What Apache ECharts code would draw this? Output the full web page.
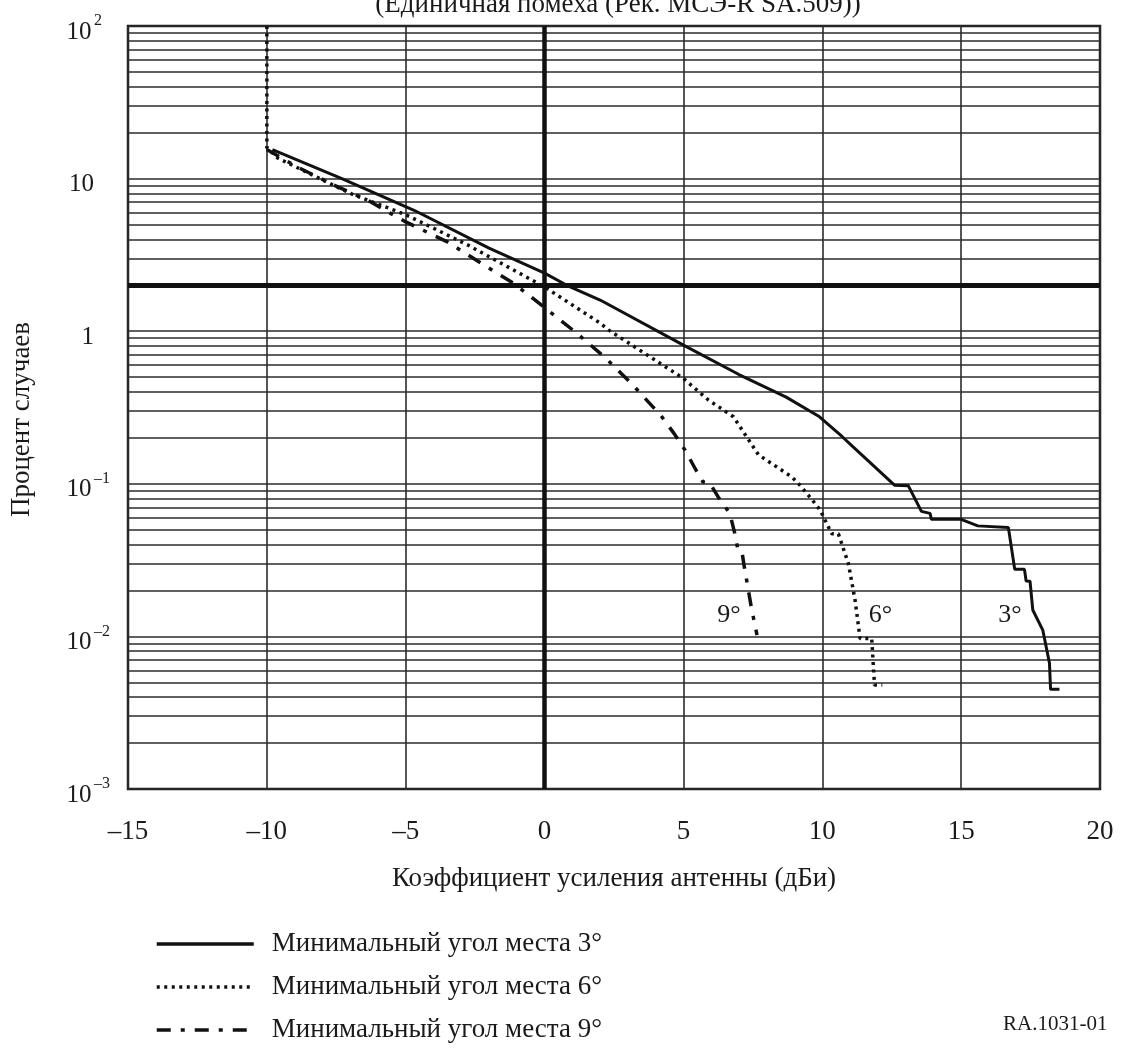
<!DOCTYPE html>
<html><head><meta charset="utf-8">
<script src="https://cdn.jsdelivr.net/npm/echarts@6/dist/echarts.min.js"></script>
<style>html,body{margin:0;padding:0;background:#fff}#c{width:1121px;height:1055px}</style>
</head><body><div id="c"></div>
<script>
const chartTitle = '(Единичная помеха (Рек. МСЭ-R SA.509))';
const xAxisName = 'Коэффициент усиления антенны (дБи)';
const yAxisName = 'Процент случаев';
const figureId = 'RA.1031-01';
const seriesNames = ['Минимальный угол места 3°', 'Минимальный угол места 6°', 'Минимальный угол места 9°'];

// x: antenna gain (dBi), y: percentage of time (%)
const curve3 = [[-9.8,15.5],[-7.3,10],[-4.7,6.2],[-2,3.5],[0,2.4],[0.8,2.0],[2,1.6],[5,0.81],[7,0.52],[8.7,0.37],[9.9,0.275],[10.7,0.205],[11.1,0.175],[12.6,0.098],[13.1,0.097],[13.57,0.066],[13.88,0.064],[13.93,0.0585],[15.0,0.0585],[15.6,0.053],[16.7,0.0518],[16.93,0.0275],[17.28,0.0275],[17.34,0.0231],[17.48,0.023],[17.58,0.0149],[17.94,0.011],[18.18,0.0067],[18.22,0.0045],[18.54,0.0045]];
const curve6 = [[-10,100],[-10,16],[-9.6,13.6],[-7,8.0],[-5,5.8],[-2.8,3.7],[0,1.95],[2,1.13],[2.3,1.02],[5,0.49],[5.9,0.354],[6.8,0.275],[7.3,0.2],[7.7,0.155],[8.9,0.111],[9.15,0.1],[9.6,0.08],[9.93,0.067],[10.34,0.047],[10.58,0.047],[10.94,0.030],[11.18,0.0173],[11.36,0.0097],[11.78,0.0097],[11.88,0.0048],[12.16,0.0048]];
const curve9 = [[-10,15.5],[-8.9,11.9],[-7.6,9.1],[-6.3,7.1],[-5,5.2],[-3.5,3.85],[-2.3,2.8],[-1.1,2.05],[0,1.43],[1.1,0.99],[2.2,0.667],[3.2,0.44],[4.2,0.278],[4.66,0.214],[5.06,0.166],[5.42,0.126],[5.7,0.103],[5.95,0.101],[6.25,0.082],[6.67,0.064],[6.84,0.048],[6.95,0.038],[7.1,0.0365],[7.2,0.028],[7.32,0.021],[7.45,0.0153],[7.65,0.0102]];

const curveLabels = ['3°', '6°', '9°'];
const curveLabelPos = [[16.76, 0.0138], [12.09, 0.0138], [6.64, 0.0138]];

const xMin = -15, xMax = 20, xStep = 5;
const yMin = 0.001, yMax = 100;
const yDecadeExp = [-3, -2, -1, 0, 1];
const yMantissas = [2, 3, 4, 5, 6, 7, 8, 9];
const thickYValue = 2;
const thickXValue = 0;
const yTickLabels = {'100': ['10','2'], '10': ['10',''], '1': ['1',''], '0.1': ['10','–1'], '0.01': ['10','–2'], '0.001': ['10','–3']};

const FONT = '"Liberation Serif", "Times New Roman", serif';
const INK = '#1a1a1a';
const GRID = '#2b2b2b';

const yMinor = [];
yDecadeExp.forEach(e => yMantissas.forEach(m => { if (!(m === thickYValue && e === 0)) yMinor.push(+(m * Math.pow(10, e)).toPrecision(3)); }));

const chart = echarts.init(document.getElementById('c'));
const lineCommon = { type: 'line', symbol: 'none', showSymbol: false, smooth: false, z: 5, animation: false };

function labelPoint(i) {
  return {
    silent: true, symbol: 'circle', symbolSize: 0, animation: false,
    label: { show: true, position: 'inside', formatter: curveLabels[i], fontFamily: FONT, fontSize: 26, color: INK },
    data: [{ coord: curveLabelPos[i] }]
  };
}

chart.setOption({
  animation: false,
  backgroundColor: '#fff',
  title: { text: chartTitle, left: 613, textAlign: 'center', top: -14, textStyle: { fontFamily: FONT, fontSize: 27, fontWeight: 'normal', color: INK } },
  grid: { left: 127, right: 21, top: 26, bottom: 266, show: true, borderColor: INK, borderWidth: 2.5, backgroundColor: 'transparent' },
  legend: {
    orient: 'vertical', left: 155, top: 930, height: 125, padding: 0, itemWidth: 97, itemHeight: 20, itemGap: 15,
    data: seriesNames,
    itemStyle: { opacity: 0 },
    lineStyle: { width: 3.5 },
    textStyle: { fontFamily: FONT, fontSize: 27, lineHeight: 28, color: INK, padding: [0, 0, 0, 13] },
    selectedMode: false
  },
  xAxis: {
    type: 'value', min: xMin, max: xMax, interval: xStep,
    name: xAxisName, nameLocation: 'middle', nameGap: 76,
    nameTextStyle: { fontFamily: FONT, fontSize: 27, color: INK },
    axisLine: { show: false }, axisTick: { show: false },
    axisLabel: { margin: 29, fontFamily: FONT, fontSize: 27, color: INK, formatter: v => String(v).replace('-', '–') },
    splitLine: { show: true, lineStyle: { color: GRID, width: 1.6 } }
  },
  yAxis: {
    type: 'log', logBase: 10, min: yMin, max: yMax, interval: 1,
    name: yAxisName, nameLocation: 'middle', nameGap: 93,
    nameTextStyle: { fontFamily: FONT, fontSize: 27, color: INK, padding: [0, 24, 0, 0] },
    axisLine: { show: false }, axisTick: { show: false },
    axisLabel: {
      align: 'left', margin: 64, padding: [12, 0, 0, 0],
      formatter: v => { const k = String(+v.toPrecision(3)); const t = yTickLabels[k] || [k, '']; return '{b|' + t[0] + '}' + (t[1] ? '{s|' + t[1] + '}' : ''); },
      rich: {
        b: { fontFamily: FONT, fontSize: 25, color: INK, width: 30, align: 'right', lineHeight: 38 },
        s: { fontFamily: FONT, fontSize: 16, color: INK, verticalAlign: 'top', lineHeight: 16 }
      }
    },
    splitLine: { show: true, lineStyle: { color: GRID, width: 1.6 } }
  },
  graphic: [{ type: 'text', left: 1003, top: 1014, style: { text: figureId, fontFamily: FONT, fontSize: 21, fill: INK } }],
  series: [
    {
      name: '_minorGrid', type: 'lines', coordinateSystem: 'cartesian2d', silent: true, z: 2, animation: false,
      lineStyle: { color: GRID, width: 1.6, opacity: 1 },
      data: yMinor.map(v => ({ coords: [[xMin, v], [xMax, v]] }))
    },
    {
      name: '_thickGrid', type: 'lines', coordinateSystem: 'cartesian2d', silent: true, z: 3, animation: false,
      lineStyle: { color: '#111', width: 5, opacity: 1 },
      data: [
        { coords: [[xMin, thickYValue], [xMax, thickYValue]] },
        { coords: [[thickXValue, yMin], [thickXValue, yMax]], lineStyle: { width: 4.5 } }
      ]
    },
    Object.assign({}, lineCommon, { name: seriesNames[0], data: curve3, lineStyle: { color: '#111', width: 3, type: 'solid' }, itemStyle: { color: '#111' }, markPoint: labelPoint(0) }),
    Object.assign({}, lineCommon, { name: seriesNames[1], data: curve6, lineStyle: { color: '#111', width: 3.5, type: [3, 4.5], cap: 'butt' }, itemStyle: { color: '#111' }, markPoint: labelPoint(1) }),
    Object.assign({}, lineCommon, { name: seriesNames[2], data: curve9, lineStyle: { color: '#111', width: 3.5, type: [14, 10, 4, 10], cap: 'butt' }, itemStyle: { color: '#111' }, markPoint: labelPoint(2) })
  ]
});
</script></body></html>
